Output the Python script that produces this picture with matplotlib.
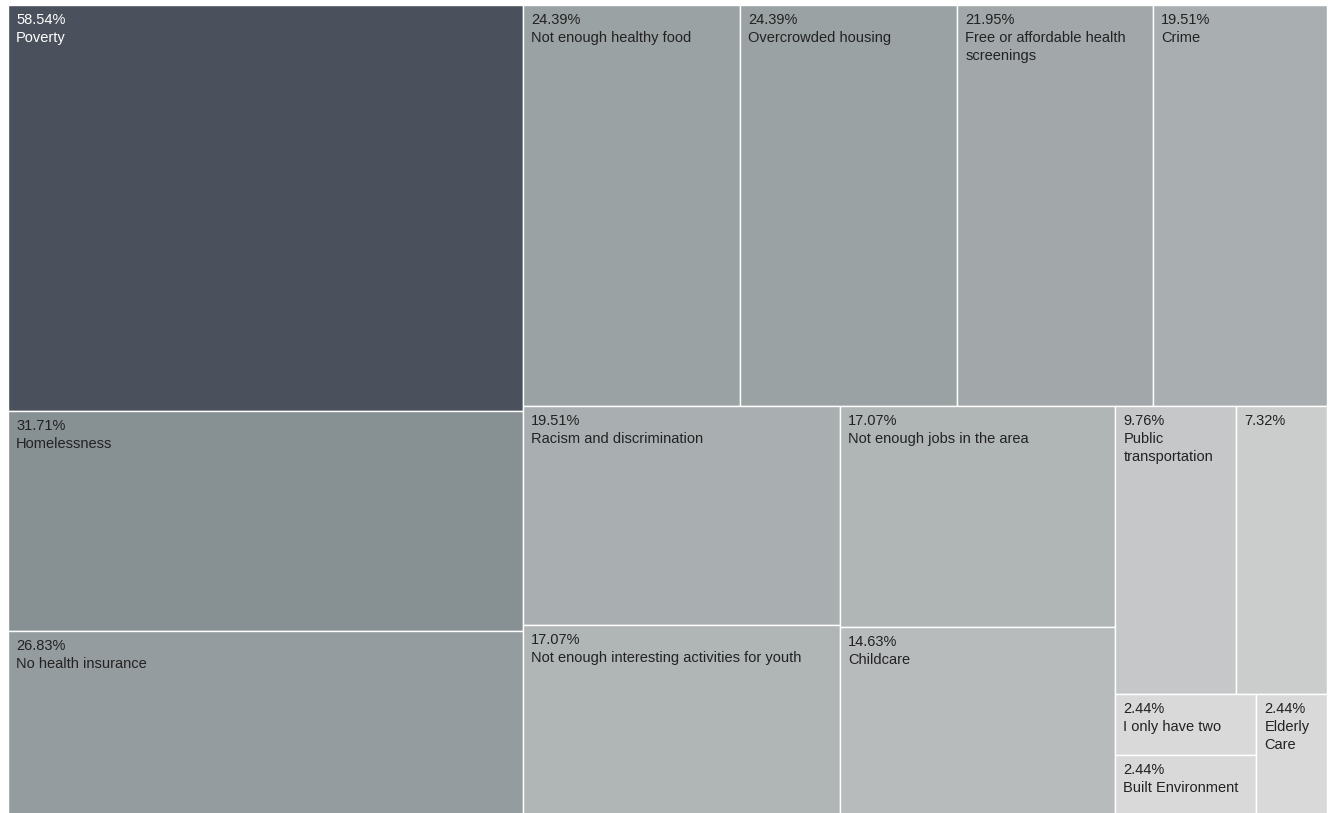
import matplotlib
matplotlib.use("Agg")
import matplotlib.pyplot as plt
from matplotlib.patches import Rectangle
from matplotlib.colors import LinearSegmentedColormap

# data
labels = [
    "Poverty", "Homelessness", "No health insurance", "Not enough healthy food",
    "Overcrowded housing", "Free or affordable health screenings", "Crime",
    "Racism and discrimination", "Not enough interesting activities for youth",
    "Not enough jobs in the area", "Childcare", "Public transportation", "",
    "I only have two", "Built Environment", "Elderly Care",
]
values = [58.54, 31.71, 26.83, 24.39, 24.39, 21.95, 19.51, 19.51,
          17.07, 17.07, 14.63, 9.76, 7.32, 2.44, 2.44, 2.44]

W, H = 1329, 813
PHI = (1 + 5 ** 0.5) / 2


def squarify(vals, x0, y0, x1, y1, ratio=PHI):
    # same row logic as d3.treemapSquarify
    rects = []
    n = len(vals)
    i0 = i1 = 0
    value = sum(vals)
    while i0 < n:
        dx, dy = x1 - x0, y1 - y0
        sum_v = vals[i1]
        i1 += 1
        min_v = max_v = sum_v
        alpha = max(dy / dx, dx / dy) / (value * ratio)
        beta = sum_v * sum_v * alpha
        min_ratio = max(max_v / beta, beta / min_v)
        while i1 < n:
            v = vals[i1]
            s = sum_v + v
            mn, mx = min(min_v, v), max(max_v, v)
            beta = s * s * alpha
            new_ratio = max(mx / beta, beta / mn)
            if new_ratio > min_ratio:
                break
            sum_v, min_v, max_v, min_ratio = s, mn, mx, new_ratio
            i1 += 1
        row = vals[i0:i1]
        if dx < dy:
            h = dy * sum_v / value
            x = x0
            for v in row:
                w = dx * v / sum_v
                rects.append((x, y0, w, h))
                x += w
            y0 += h
        else:
            w = dx * sum_v / value
            y = y0
            for v in row:
                h = dy * v / sum_v
                rects.append((x0, y, w, h))
                y += h
            x0 += w
        value -= sum_v
        i0 = i1
    return rects


cmap = LinearSegmentedColormap.from_list(
    "greys", [(0, "#d9d9d9"), (0.5, "#8a9396"), (1, "#4a505c")])
vmin, vmax = min(values), max(values)

fig = plt.figure(figsize=(W / 100, H / 100), dpi=100)
ax = fig.add_axes([0, 0, 1, 1])
ax.set_xlim(0, W)
ax.set_ylim(H, 0)
ax.axis("off")
renderer = fig.canvas.get_renderer()

font = dict(family=["Liberation Sans", "DejaVu Sans"], fontsize=10.5)


def text_width(s):
    t = ax.text(0, 0, s, **font)
    w = t.get_window_extent(renderer).width
    t.remove()
    return w


def wrap(s, maxw):
    lines, cur = [], ""
    for word in s.split():
        trial = (cur + " " + word).strip()
        if cur and text_width(trial) > maxw:
            lines.append(cur)
            cur = word
        else:
            cur = trial
    if cur:
        lines.append(cur)
    return lines


# plot area runs a little past the bottom edge, as in the original
rects = squarify(values, 8, 5, 1327, 817)
for (x, y, w, h), lab, v in zip(rects, labels, values):
    frac = (v - vmin) / (vmax - vmin)
    ax.add_patch(Rectangle((x, y), w, h, facecolor=cmap(frac),
                           edgecolor="white", linewidth=1.0))
    col = "white" if frac > 0.6 else "#222222"
    lines = ["%.2f%%" % v] + wrap(lab, w - 16)
    for i, line in enumerate(lines):
        ax.text(x + 8, y + 8 + i * 18, line, color=col, va="top", ha="left", **font)

fig.savefig("out.png", dpi=100)
